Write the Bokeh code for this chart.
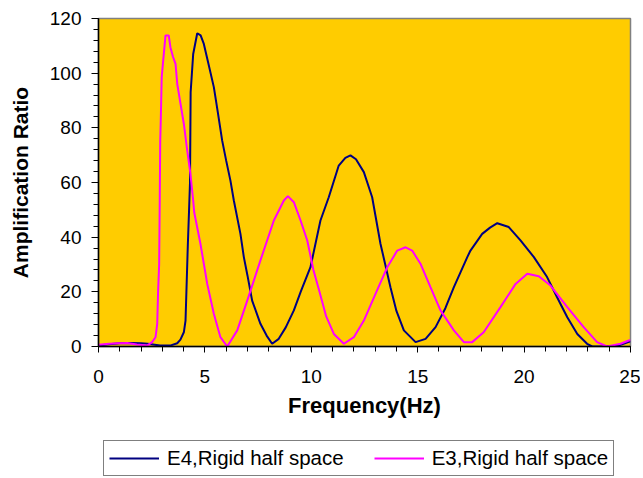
from bokeh.plotting import figure
from bokeh.layouts import column
from bokeh.models import Legend, LegendItem, Range1d, SingleIntervalTicker
from bokeh.embed import file_html
from bokeh.resources import INLINE

# E4, Rigid half space
e4_freq = [0.0, 0.5, 1.0, 1.5, 2.0, 2.3, 2.9, 3.4, 3.7, 3.85, 4.01, 4.09, 4.2, 4.25,
           4.3, 4.33, 4.45, 4.64, 4.8, 4.95, 5.15, 5.42, 5.6, 5.81, 6.0, 6.2, 6.36,
           6.67, 6.83, 7.0, 7.22, 7.61, 7.9, 8.16, 8.47, 8.8, 9.18, 9.5, 9.96, 10.43,
           10.82, 11.29, 11.6, 11.84, 12.1, 12.47, 12.86, 13.25, 13.72, 14.0, 14.35,
           14.9, 15.37, 15.84, 16.3, 16.7, 17.33, 17.48, 18.03, 18.4, 18.74, 19.28,
           19.83, 20.46, 21.08, 21.55, 22.03, 22.5, 22.96, 23.2, 24.0, 24.5, 25.0]
e4_amp = [0.4, 0.8, 1.2, 1.3, 1.2, 1.0, 0.4, 0.4, 1.2, 2.5, 5.2, 9.5, 37.7, 48.6,
          60.0, 93.0, 107.0, 114.6, 113.8, 110.7, 104.0, 94.9, 86.0, 75.4, 68.0, 60.7, 53.4,
          41.2, 32.7, 26.0, 16.8, 8.3, 4.0, 1.0, 2.8, 7.0, 13.2, 20.0, 29.0, 46.1,
          54.6, 66.2, 69.0, 69.9, 68.5, 63.8, 54.6, 37.6, 21.7, 13.0, 5.9,
          1.6, 2.8, 7.1, 14.0, 21.7, 32.7, 35.1, 41.2, 43.5, 45.1, 43.7,
          38.8, 32.7, 25.4, 18.0, 10.7, 4.6, 1.0, 0.0, 0.0, 0.5, 1.9]

# E3, Rigid half space
e3_freq = [0.0, 0.5, 0.9, 1.35, 1.8, 2.3, 2.52, 2.68, 2.76, 2.8, 2.85, 2.88, 2.9, 2.93,
           2.97, 3.04, 3.15, 3.3, 3.38, 3.5, 3.62, 3.7, 3.85, 4.01, 4.17, 4.32, 4.45,
           4.5, 4.79, 5.11, 5.42, 5.73, 6.05, 6.52, 6.99, 7.61, 8.24, 8.71, 8.9, 9.18,
           9.5, 9.81, 10.1, 10.35, 10.7, 11.06, 11.53, 12.0, 12.47, 13.09, 13.57, 14.04,
           14.43, 14.74, 15.13, 15.6, 16.07, 16.7, 17.17, 17.56, 18.1, 18.89, 19.6,
           20.15, 20.69, 21.24, 22.03, 22.8, 23.43, 23.9, 24.53, 24.92, 25.0]
e3_amp = [0.6, 1.0, 1.2, 1.3, 0.7, 0.4, 1.6, 3.4, 8.3, 20.0, 30.0, 55.0, 75.0, 84.0,
          98.5, 104.6, 113.8, 113.8, 109.5, 106.0, 103.4, 96.1, 89.0, 81.5, 71.7, 63.2, 53.4,
          49.0, 37.6, 22.9, 12.0, 3.4, 0.0, 5.9, 16.8, 31.5, 46.1, 53.4, 55.0, 52.8,
          46.0, 38.8, 28.0, 21.0, 11.0, 4.6, 1.0, 3.4, 9.5, 20.5, 29.0, 35.1,
          36.3, 35.1, 30.3, 21.7, 13.2, 5.9, 1.6, 1.6, 5.2, 14.4, 22.9,
          26.6, 25.7, 22.3, 14.4, 7.1, 1.6, 0.0, 1.0, 2.2, 2.3]

x_ticks = [0, 5, 10, 15, 20, 25]
y_ticks = [0, 20, 40, 60, 80, 100, 120]
series_labels = ["E4,Rigid half space", "E3,Rigid half space"]
series_colors = ["#000080", "#FF00FF"]

FONT = "Liberation Sans"

p = figure(width=640, height=430, output_backend="svg", toolbar_location=None,
           x_range=Range1d(0, 25), y_range=Range1d(0, 120),
           min_border_left=98, min_border_right=10, min_border_top=18, min_border_bottom=84)

p.background_fill_color = "#FFCC00"
p.border_fill_color = "white"
p.outline_line_color = "#808080"
p.outline_line_width = 1.5
p.grid.visible = False

r4 = p.line(e4_freq, e4_amp, line_color=series_colors[0], line_width=2)
r3 = p.line(e3_freq, e3_amp, line_color=series_colors[1], line_width=2)

# axes
p.xaxis.ticker = SingleIntervalTicker(interval=5, num_minor_ticks=5)
p.yaxis.ticker = SingleIntervalTicker(interval=20, num_minor_ticks=5)
for ax in (p.xaxis[0], p.yaxis[0]):
    ax.axis_line_color = "black"
    ax.axis_line_width = 1.5
    ax.major_tick_line_color = "black"
    ax.minor_tick_line_color = "black"
    ax.major_tick_in = 0
    ax.minor_tick_in = 0
    ax.major_label_text_font = FONT
    ax.major_label_text_font_size = "19px"
    ax.major_label_text_color = "black"
    ax.axis_label_text_font = FONT
    ax.axis_label_text_font_style = "bold"
    ax.axis_label_text_color = "black"

p.xaxis.axis_label_text_font_size = "22px"
p.yaxis.axis_label_text_font_size = "21px"
p.xaxis.major_tick_out = 6
p.xaxis.minor_tick_out = 5
p.yaxis.major_tick_out = 7
p.yaxis.minor_tick_out = 5
p.xaxis.axis_label = "Frequency(Hz)"
p.yaxis.axis_label = "Amplification Ratio"
p.xaxis.major_label_standoff = 17
p.yaxis.major_label_standoff = 10
p.xaxis.axis_label_standoff = 7
p.yaxis.axis_label_standoff = 15

# legend strip below the chart (same series, drawn outside this strip's view)
lg = figure(width=640, height=48, output_backend="svg", toolbar_location=None,
            min_border_left=0, min_border_right=0,
            min_border_top=0, min_border_bottom=0,
            x_range=Range1d(100, 101), y_range=Range1d(1000, 1001),
            x_axis_type=None, y_axis_type=None)
lg.outline_line_color = None
lg.grid.visible = False
lg.background_fill_color = "white"
k4 = lg.line(e4_freq, e4_amp, line_color=series_colors[0], line_width=2)
k3 = lg.line(e3_freq, e3_amp, line_color=series_colors[1], line_width=2)

legend = Legend(items=[LegendItem(label=series_labels[0], renderers=[k4]),
                       LegendItem(label=series_labels[1], renderers=[k3])],
                orientation="horizontal", location=(5, 2))
legend.label_text_font = FONT
legend.label_text_font_size = "20.5px"
legend.label_text_color = "black"
legend.glyph_width = 50
legend.glyph_height = 20
legend.label_height = 20
legend.label_standoff = 8
legend.spacing = 30
legend.padding = 5
legend.margin = 0
legend.border_line_color = "black"
legend.border_line_width = 1
legend.background_fill_color = "white"
legend.background_fill_alpha = 1.0
lg.add_layout(legend, "center")

open("out.html", "w").write(file_html(column(p, lg, spacing=0), INLINE))
